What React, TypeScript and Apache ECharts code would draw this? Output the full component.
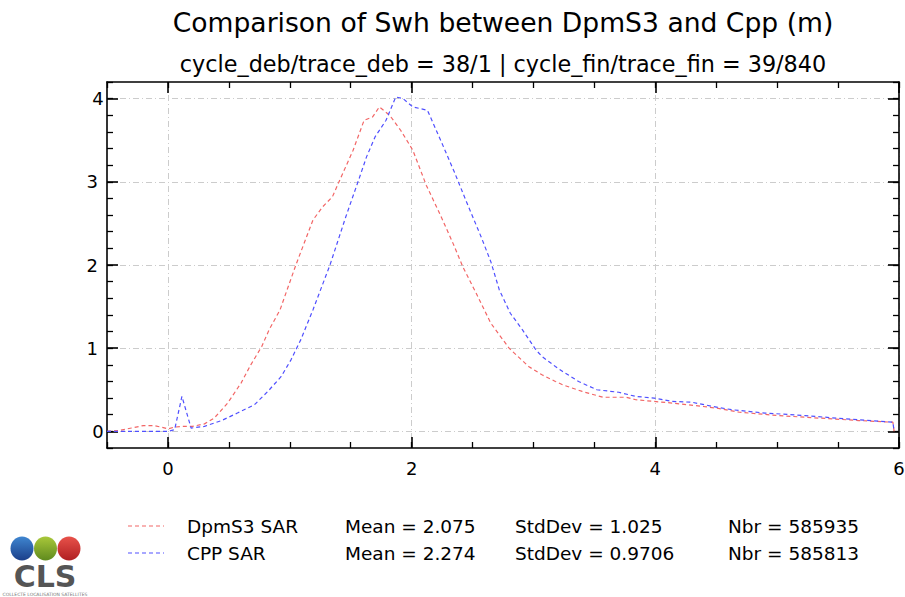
import React, { useEffect, useRef } from "react";
import * as echarts from "echarts";

const titleText = "Comparison of Swh between DpmS3 and Cpp (m)";
const subtitleText = "cycle_deb/trace_deb = 38/1 | cycle_fin/trace_fin = 39/840";
const xTicks = [0, 2, 4, 6];
const yTicks = [0, 1, 2, 3, 4];

const dpmX = [-0.5, -0.4, -0.3, -0.2, -0.12, -0.05, 0.0, 0.05, 0.12, 0.2, 0.3, 0.38, 0.49, 0.6, 0.68, 0.77, 0.83, 0.92, 1.05, 1.19, 1.27, 1.35, 1.41, 1.52, 1.61, 1.68, 1.735, 1.82, 1.91, 2.01, 2.12, 2.23, 2.34, 2.42, 2.53, 2.65, 2.8, 2.96, 3.07, 3.18, 3.24, 3.4, 3.57, 3.76, 3.84, 3.99, 4.14, 4.33, 4.5, 4.69, 5.01, 5.34, 5.67, 5.95, 5.96];
const dpmY = [0, 0.01, 0.04, 0.07, 0.07, 0.05, 0.03, 0.05, 0.06, 0.06, 0.09, 0.16, 0.34, 0.58, 0.8, 1.02, 1.22, 1.46, 2.0, 2.54, 2.7, 2.82, 3.02, 3.38, 3.74, 3.78, 3.9, 3.8, 3.62, 3.38, 2.96, 2.62, 2.26, 1.98, 1.66, 1.3, 1.0, 0.78, 0.68, 0.6, 0.56, 0.48, 0.41, 0.41, 0.38, 0.36, 0.34, 0.31, 0.28, 0.23, 0.19, 0.16, 0.13, 0.11, 0];

const cppX = [-0.5, -0.3, 0.0, 0.055, 0.115, 0.19, 0.3, 0.44, 0.57, 0.71, 0.82, 0.93, 1.01, 1.09, 1.19, 1.33, 1.46, 1.56, 1.63, 1.7, 1.79, 1.87, 1.93, 2.01, 2.13, 2.25, 2.35, 2.45, 2.53, 2.57, 2.65, 2.72, 2.81, 2.91, 3.02, 3.07, 3.18, 3.24, 3.37, 3.52, 3.7, 3.84, 3.99, 4.14, 4.3, 4.47, 4.63, 4.9, 5.23, 5.56, 5.95, 5.96];
const cppY = [0, 0, 0.0, 0.02, 0.42, 0.04, 0.06, 0.13, 0.22, 0.32, 0.48, 0.66, 0.86, 1.1, 1.46, 2.0, 2.58, 3.0, 3.3, 3.54, 3.74, 4.02, 4.0, 3.9, 3.86, 3.46, 3.12, 2.76, 2.48, 2.34, 2.04, 1.7, 1.42, 1.22, 0.98, 0.9, 0.78, 0.72, 0.6, 0.5, 0.47, 0.42, 0.4, 0.36, 0.35, 0.3, 0.26, 0.22, 0.19, 0.15, 0.11, 0];

const seriesNames = ["DpmS3 SAR", "CPP SAR"];
const seriesColors = ["#f26666", "#5050ff"];
const means = ["2.075", "2.274"];
const stdDevs = ["1.025", "0.9706"];
const counts = ["585935", "585813"];

const FONT = "DejaVu Sans";

export default function App() {
  const ref = useRef<HTMLDivElement>(null);
  useEffect(() => {
    if (!ref.current) return;
    const chart = echarts.init(ref.current, undefined, { renderer: "svg" });

    const majorAxis = (pos: string, min: number, max: number, ticks: number[], showLabel: boolean, split: boolean) => ({
      type: "value",
      position: pos,
      min,
      max,
      axisLine: { show: true, onZero: false, lineStyle: { color: "#000", width: 1.6 } },
      axisTick: { show: true, inside: true, length: 11, customValues: ticks, lineStyle: { color: "#000", width: 1.6 } },
      axisLabel: showLabel
        ? { show: true, customValues: ticks, color: "#000", fontSize: 18, fontFamily: FONT, margin: pos === "bottom" ? 11 : 9, alignMaxLabel: "center", alignMinLabel: "center", hideOverlap: false }
        : { show: false },
      splitLine: split
        ? { show: true, lineStyle: { color: "#cccccc", width: 1, type: [6, 3, 1, 3] } }
        : { show: false },
    });
    const minorAxis = (pos: string, min: number, max: number, interval: number) => ({
      type: "value",
      position: pos,
      min,
      max,
      interval,
      axisLine: { show: false, onZero: false },
      axisTick: { show: true, inside: true, length: 6, lineStyle: { color: "#000", width: 1.3 } },
      axisLabel: { show: false },
      splitLine: { show: false },
    });

    const legendGraphics: any[] = [];
    const rowY = [526, 553];
    seriesNames.forEach((name, i) => {
      const y = rowY[i];
      legendGraphics.push({
        type: "line",
        shape: { x1: 128, y1: y, x2: 164, y2: y },
        style: { stroke: seriesColors[i], lineWidth: 1.2, lineDash: [4, 3] },
      });
      const cols: [number, string][] = [
        [187, name],
        [345, "Mean = " + means[i]],
        [515, "StdDev = " + stdDevs[i]],
        [728, "Nbr = " + counts[i]],
      ];
      cols.forEach(([x, t]) => {
        legendGraphics.push({
          type: "text",
          x,
          y,
          style: { text: t, font: `18.5px '${FONT}'`, fill: "#000", textAlign: "left", textVerticalAlign: "middle", align: "left", verticalAlign: "middle" },
        });
      });
    });

    const logo: any[] = [
      { type: "ellipse", shape: { cx: 22, cy: 548.5, rx: 11.5, ry: 12 }, style: { fill: new echarts.graphic.LinearGradient(0, 0, 0, 1, [{ offset: 0, color: "#3f86d0" }, { offset: 1, color: "#1b3f8a" }]) } },
      { type: "ellipse", shape: { cx: 45.5, cy: 548.5, rx: 11.5, ry: 12 }, style: { fill: new echarts.graphic.LinearGradient(0, 0, 0, 1, [{ offset: 0, color: "#a9c83a" }, { offset: 1, color: "#5f8a1e" }]) } },
      { type: "ellipse", shape: { cx: 69, cy: 548.5, rx: 11.5, ry: 12 }, style: { fill: new echarts.graphic.LinearGradient(0, 0, 0, 1, [{ offset: 0, color: "#e8524a" }, { offset: 1, color: "#b01f22" }]) } },
      { type: "text", x: 45, y: 576, style: { text: "CLS", font: `bold 30px '${FONT}'`, fill: "#555555", textAlign: "center", textVerticalAlign: "middle", align: "center", verticalAlign: "middle" } },
      { type: "text", x: 45, y: 594.5, style: { text: "COLLECTE LOCALISATION SATELLITES", font: `4.5px '${FONT}'`, fill: "#777777", textAlign: "center", textVerticalAlign: "middle", align: "center", verticalAlign: "middle" } },
    ];

    chart.setOption({
      animation: false,
      backgroundColor: "#ffffff",
      grid: { left: 107, right: 6, top: 82, bottom: 149, containLabel: false, outerBoundsMode: "none" },
      xAxis: [
        majorAxis("bottom", -0.5, 6, xTicks, true, true),
        minorAxis("bottom", -0.5, 6, 0.5),
        majorAxis("top", -0.5, 6, xTicks, false, false),
        minorAxis("top", -0.5, 6, 0.5),
      ],
      yAxis: [
        majorAxis("left", -0.2, 4.2, yTicks, true, true),
        minorAxis("left", -0.2, 4.2, 0.2),
        majorAxis("right", -0.2, 4.2, yTicks, false, false),
        minorAxis("right", -0.2, 4.2, 0.2),
      ],
      series: [
        {
          name: seriesNames[0],
          type: "line",
          xAxisIndex: 0,
          yAxisIndex: 0,
          showSymbol: false,
          symbol: "none",
          data: dpmX.map((x, i) => [x, dpmY[i]]),
          lineStyle: { color: seriesColors[0], width: 1.2, type: [4, 3] },
          z: 3,
        },
        {
          name: seriesNames[1],
          type: "line",
          xAxisIndex: 0,
          yAxisIndex: 0,
          showSymbol: false,
          symbol: "none",
          data: cppX.map((x, i) => [x, cppY[i]]),
          lineStyle: { color: seriesColors[1], width: 1.2, type: [4, 3] },
          z: 4,
        },
      ],
      graphic: [
        { type: "text", x: 503, y: 22, style: { text: titleText, font: `26.6px '${FONT}'`, fill: "#000", textAlign: "center", textVerticalAlign: "middle", align: "center", verticalAlign: "middle" } },
        { type: "text", x: 503, y: 64, style: { text: subtitleText, font: `22.3px '${FONT}'`, fill: "#000", textAlign: "center", textVerticalAlign: "middle", align: "center", verticalAlign: "middle" } },
        ...legendGraphics,
        ...logo,
      ],
    });
    return () => chart.dispose();
  }, []);
  return <div ref={ref} style={{ position: "fixed", left: 0, top: 0, width: 905, height: 597, background: "#fff" }} />;
}
